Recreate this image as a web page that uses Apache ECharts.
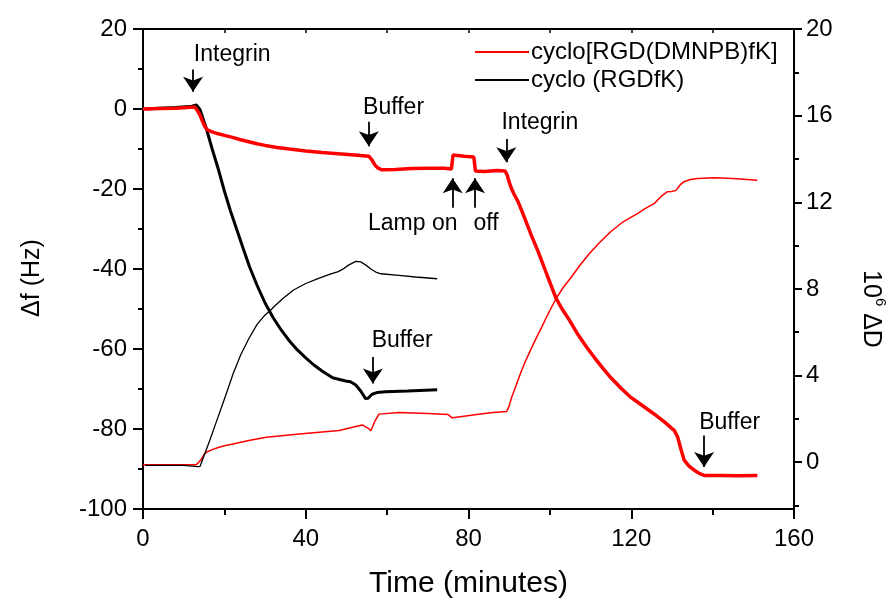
<!DOCTYPE html>
<html>
<head>
<meta charset="utf-8">
<script src="https://cdn.jsdelivr.net/npm/echarts@6/dist/echarts.min.js"></script>
<style>html,body{margin:0;padding:0;background:#fff;}#c{width:896px;height:604px;}</style>
</head>
<body>
<div id="c"></div>
<script>
// ---- data (time in minutes) ----
const redFreqT = [0, 4, 8, 12.7, 13.3, 14, 14.6, 15.2, 15.8, 17, 18.5, 20, 22, 24, 26, 28, 30, 33, 36, 40, 44, 48, 52, 55.5, 56.3, 57, 57.8, 58.7, 62, 66, 70, 74, 75.8, 76.2, 76.6, 79, 81.3, 81.7, 84, 87, 89, 89.5, 90, 90.6, 91.3, 92.2, 93, 94, 95.5, 97.1, 99.3, 101.5, 103, 104.5, 106.9, 109, 111, 113, 115, 117.5, 119.9, 122.8, 125.7, 128.2, 130.6, 131.4, 132.2, 133, 134.2, 135.5, 136.7, 137.9, 142, 146, 151];
const redFreqV = [0, 0.1, 0.2, 0.5, -0.3, -1.5, -3, -4.4, -5.2, -5.7, -6.2, -6.6, -7.1, -7.7, -8.2, -8.7, -9.1, -9.6, -10, -10.5, -10.9, -11.2, -11.5, -11.8, -12.8, -14, -14.8, -15.2, -15.1, -14.9, -14.8, -14.8, -15, -11.5, -11.4, -11.8, -12, -15.5, -15.6, -15.4, -15.5, -16.5, -18.3, -20, -21.5, -23.2, -25.2, -27.8, -31.7, -35.6, -41.5, -47.3, -50, -52.3, -56.4, -59.5, -62.2, -64.8, -67.2, -69.8, -72.1, -74.2, -76.3, -78.3, -80.4, -82, -85, -87.8, -89.3, -90.3, -91.1, -91.6, -91.6, -91.7, -91.6];

const blackFreqT = [0.5, 4, 8, 12, 13.1, 14, 15.6, 17, 18.5, 20, 21.5, 23, 24.5, 26.2, 28, 30, 32, 34, 36, 38, 40, 42, 44, 46.6, 49.8, 51, 52.3, 53.5, 54.7, 55.3, 56.3, 57.5, 59.6, 65, 72.3];
const blackFreqV = [0, 0.2, 0.4, 0.7, 1.0, -0.1, -5, -10, -15, -20.5, -25.5, -30, -34.5, -39.5, -44, -48.5, -52.2, -55.3, -58, -60.3, -62.2, -64, -65.5, -67.2, -68, -68.2, -69, -70.5, -72.4, -72.3, -71.3, -70.9, -70.7, -70.5, -70.2];

const redDissT = [0, 5, 10, 13.1, 14.2, 15, 15.6, 17, 18.5, 20, 22.1, 26, 30.3, 38.4, 44, 48.2, 51.5, 53.9, 55.5, 56, 57, 58, 62.9, 70, 75, 76, 78, 82, 86, 89.4, 90, 90.6, 91.8, 93, 94.2, 95.5, 96.7, 97.9, 99.7, 101.6, 103.4, 105.3, 107.3, 109.4, 112, 115, 118, 121.6, 123.5, 125.7, 127.5, 128.9, 130, 131, 132, 133, 134.5, 136.3, 140.4, 145, 151];
const redDissV = [-0.12, -0.12, -0.12, -0.12, 0.1, 0.35, 0.46, 0.58, 0.68, 0.76, 0.84, 1.0, 1.15, 1.3, 1.4, 1.46, 1.61, 1.72, 1.55, 1.45, 1.9, 2.22, 2.3, 2.25, 2.2, 2.05, 2.1, 2.2, 2.3, 2.34, 2.6, 2.99, 3.6, 4.21, 4.75, 5.28, 5.75, 6.2, 6.9, 7.58, 8.1, 8.55, 9.07, 9.57, 10.1, 10.65, 11.1, 11.49, 11.72, 11.95, 12.3, 12.49, 12.5, 12.55, 12.8, 12.95, 13.05, 13.1, 13.13, 13.1, 13.02];

const blackDissT = [0.5, 5, 10, 13.5, 14, 15, 16.4, 18, 19.6, 21, 22.1, 24, 26, 28, 30, 31.1, 32.3, 34.3, 37, 40, 43, 46, 48, 49, 50.5, 52.3, 53.5, 54.7, 56, 57.2, 58.5, 62.9, 67, 72.3];
const blackDissV = [-0.15, -0.15, -0.15, -0.2, -0.2, 0.3, 1.0, 1.85, 2.7, 3.45, 4.06, 4.95, 5.7, 6.35, 6.8, 6.97, 7.2, 7.55, 7.95, 8.25, 8.48, 8.68, 8.8, 8.9, 9.1, 9.27, 9.25, 9.11, 8.92, 8.78, 8.7, 8.63, 8.55, 8.47];

const xTicks = [0, 40, 80, 120, 160];
const xMinorTicks = [20, 60, 100, 140];
const rightTicks = [0, 4, 8, 12, 16, 20];
const rightMinorTicks = [-2, 2, 6, 10, 14, 18];

// annotations (data coordinates, Hz axis)
const annTexts = ['Integrin', 'Buffer', 'Lamp on', 'off', 'Integrin', 'Buffer', 'Buffer'];
const annTextT = [12.5, 54.1, 66.3, 84.3, 88.1, 56.2, 136.7];
const annTextV = [13.6, 0.4, -28.6, -28.6, -3.4, -58, -78.3];
const annAlign = ['left', 'left', 'center', 'center', 'left', 'left', 'left'];
const arrowT = [12.3, 55.5, 76.1, 81.6, 89.3, 56.5, 137.9];
const arrowFrom = [9.86, -3.2, -24.7, -24.7, -7.5, -62, -81.6];
const arrowTo = [4.3, -9.3, -17.3, -17.3, -13.3, -68.6, -89.5];

const zip = (a, b) => a.map((v, i) => [v, b[i]]);
const FONT = "'Liberation Sans', Arial, Helvetica, sans-serif";

const chart = echarts.init(document.getElementById('c'), null, {renderer: 'canvas'});

const axisLine = {show: true, onZero: false, lineStyle: {color: '#000', width: 2}};

const option = {
  animation: false,
  backgroundColor: '#fff',
  textStyle: {fontFamily: FONT, color: '#000'},
  grid: {left: 143, right: 99, top: 29, bottom: 92, containLabel: false},
  legend: {
    data: ['cyclo[RGD(DMNPB)fK]', 'cyclo (RGDfK)'],
    orient: 'vertical', left: 470, top: 35,
    itemWidth: 54, itemHeight: 2, itemGap: 4, icon: 'rect',
    textStyle: {fontSize: 24, fontFamily: FONT, color: '#000', padding: [0, 0, 0, -3]}
  },
  xAxis: [{
    type: 'value', min: 0, max: 160, interval: 20, position: 'bottom',
    axisLine: axisLine,
    axisTick: {show: true, length: 10, lineStyle: {color: '#000', width: 2}, customValues: xTicks},
    axisLabel: {fontSize: 24, color: '#000', fontFamily: FONT, margin: 18, customValues: xTicks},
    splitLine: {show: false},
    name: 'Time (minutes)', nameLocation: 'middle', nameGap: 60,
    nameTextStyle: {fontSize: 30, fontFamily: FONT, color: '#000'}
  }, {
    type: 'value', min: 0, max: 160, interval: 20, position: 'bottom',
    axisLine: {show: false, onZero: false},
    axisTick: {show: true, length: 6, lineStyle: {color: '#000', width: 2}, customValues: xMinorTicks},
    axisLabel: {show: false}, splitLine: {show: false}
  }, {
    type: 'value', min: 0, max: 160, interval: 20, position: 'top',
    axisLine: axisLine,
    axisTick: {show: true, inside: true, length: 4, lineStyle: {color: '#000', width: 1.5}},
    axisLabel: {show: false}, splitLine: {show: false}
  }],
  yAxis: [{
    type: 'value', min: -100, max: 20, interval: 20, position: 'left',
    axisLine: axisLine,
    axisTick: {show: true, length: 10, lineStyle: {color: '#000', width: 2}},
    minorTick: {show: true, splitNumber: 2, length: 5, lineStyle: {color: '#000', width: 2}},
    axisLabel: {fontSize: 24, color: '#000', fontFamily: FONT, margin: 16},
    splitLine: {show: false}, minorSplitLine: {show: false},
    name: 'Δf (Hz)', nameLocation: 'middle', nameGap: 98, nameRotate: 90,
    nameTextStyle: {fontSize: 25, fontFamily: FONT, color: '#000', padding: [0, 18, 0, 0]}
  }, {
    type: 'value', min: -2.16, max: 20, position: 'right',
    axisLine: axisLine,
    axisTick: {show: true, length: 8, lineStyle: {color: '#000', width: 2}, customValues: rightTicks},
    axisLabel: {fontSize: 24, color: '#000', fontFamily: FONT, margin: 12, customValues: rightTicks},
    splitLine: {show: false},
    name: '{n|10}{s|6}{n| ΔD}', nameLocation: 'middle', nameGap: 64, nameRotate: -90,
    nameTextStyle: {
      fontFamily: FONT, color: '#000', padding: [0, 0, 0, 80],
      rich: {
        n: {fontSize: 25, fontFamily: FONT, color: '#000', lineHeight: 30, verticalAlign: 'bottom'},
        s: {fontSize: 15, fontFamily: FONT, color: '#000', lineHeight: 30, verticalAlign: 'top'}
      }
    }
  }, {
    type: 'value', min: -2.16, max: 20, position: 'right',
    axisLine: {show: false, onZero: false},
    axisTick: {show: true, length: 5, lineStyle: {color: '#000', width: 2}, customValues: rightMinorTicks},
    axisLabel: {show: false}, splitLine: {show: false}
  }],
  series: [{
    name: 'cyclo (RGDfK)', type: 'line', xAxisIndex: 0, yAxisIndex: 0,
    data: zip(blackFreqT, blackFreqV), showSymbol: false, symbol: 'none',
    lineStyle: {color: '#000', width: 3}, itemStyle: {color: '#000'}, z: 3
  }, {
    name: 'cyclo[RGD(DMNPB)fK]', type: 'line', xAxisIndex: 0, yAxisIndex: 0,
    data: zip(redFreqT, redFreqV), showSymbol: false, symbol: 'none',
    lineStyle: {color: '#ff0000', width: 3.5}, itemStyle: {color: '#ff0000'}, z: 4,
    markLine: {
      silent: true, animation: false,
      symbol: ['none', 'arrow'], symbolSize: 15,
      lineStyle: {color: '#000', width: 1.8, type: 'solid'},
      itemStyle: {color: '#000'},
      label: {show: false},
      emphasis: {disabled: true},
      data: arrowT.map((t, i) => [{coord: [t, arrowFrom[i]]}, {coord: [t, arrowTo[i]]}])
    },
    markPoint: {
      silent: true, animation: false, symbolSize: 0,
      data: annTexts.map((s, i) => ({
        coord: [annTextT[i], annTextV[i]], value: s,
        label: {show: true, position: [0, 0], formatter: s, align: annAlign[i], verticalAlign: 'middle',
                fontSize: 23, fontFamily: FONT, color: '#000'}
      }))
    }
  }, {
    name: 'dissRed', type: 'line', xAxisIndex: 0, yAxisIndex: 1,
    data: zip(redDissT, redDissV), showSymbol: false, symbol: 'none',
    lineStyle: {color: '#ff0000', width: 1.5}, z: 2
  }, {
    name: 'dissBlack', type: 'line', xAxisIndex: 0, yAxisIndex: 1,
    data: zip(blackDissT, blackDissV), showSymbol: false, symbol: 'none',
    lineStyle: {color: '#000', width: 1.3}, z: 2
  }]
};
chart.setOption(option);
</script>
</body>
</html>
